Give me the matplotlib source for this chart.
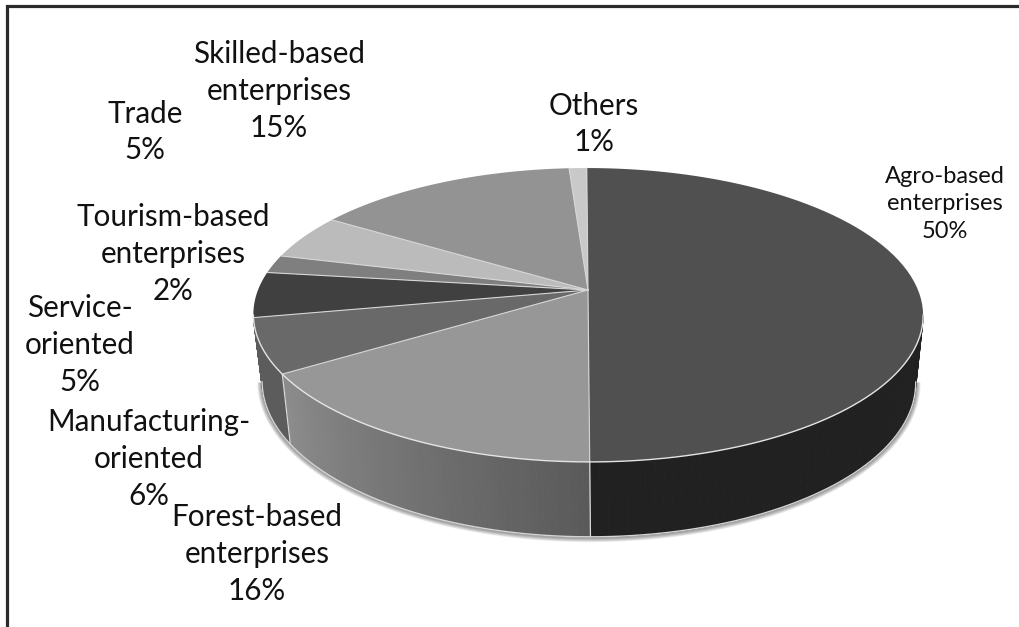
import numpy as np
import matplotlib
matplotlib.use('Agg')
import matplotlib.pyplot as plt

labels = ['Agro-based\nenterprises', 'Forest-based\nenterprises', 'Manufacturing-\noriented',
          'Service-\noriented', 'Tourism-based\nenterprises', 'Trade',
          'Skilled-based\nenterprises', 'Others']
values = [50, 16, 6, 5, 2, 5, 15, 1]

top_colors = ['#505050', '#979797', '#696969', '#404040', '#7f7f7f', '#bbbbbb', '#939393', '#c9c9c9']
# wall shade at the start and end of each slice, only the front three show
wall_colors = [('#212121', '#212121'), ('#5a5a5a', '#8c8c8c'), ('#5c5c5c', '#5c5c5c')]

label_pos = [(945, 204), (257, 554), (149, 459), (80, 345), (173, 254), (145, 132), (279, 91), (594, 124)]
label_size = [17, 21.3, 21.3, 21.3, 21.3, 21.3, 21.3, 21.3]

# pie geometry in pixels, the disc is tilted so it is drawn in perspective
cx, cy = 588, 290
rx, ry = 330, 142.7
k = 0.17
lean = 0.01
bottom_sx = 0.976
bottom_sy = 1.054
bottom_shift = 65.6
visible_from = np.degrees(np.arccos(-k))


def rim(theta, sx=1.0, sy=1.0, shift=0.0):
    t = np.radians(theta)
    w = 1 + k * np.cos(t)
    y = cy + shift - sy * ry * np.cos(t) / w
    x = cx + sx * rx * np.sin(t) / w + lean * (y - cy)
    return x, y


def bottom_rim(theta):
    return rim(theta, bottom_sx, bottom_sy, bottom_shift)


def seam(angle):
    x0, y0 = rim(np.array([angle]))
    x1, y1 = bottom_rim(np.array([angle]))
    ax.plot([x0[0], x1[0]], [y0[0], y1[0]], color='#d8d8d8', lw=0.9, zorder=3)


plt.rcParams['font.family'] = ['Lato', 'DejaVu Sans']
fig = plt.figure(figsize=(10.2, 6.27), dpi=100)
ax = fig.add_axes([0, 0, 1, 1])
ax.set_xlim(0, 1020)
ax.set_ylim(627, 0)
ax.axis('off')

# frame on the top and left only
ax.plot([7.5, 7.5, 1020], [627, 6, 6], color='#2a2a2a', lw=2.3, solid_joinstyle='miter')

edges = np.cumsum([0] + values) / sum(values) * 360

# soft shadow along the lower rim
th = np.linspace(visible_from, 360 - visible_from, 300)
bx, by = bottom_rim(th)
for i in range(6):
    ax.plot(bx, by + 0.5, color='black', alpha=0.07, lw=7 - i, solid_capstyle='butt', zorder=1)

# side wall, split into thin strips so the shading can change along it
for i in range(3):
    start = max(edges[i], visible_from)
    end = min(edges[i + 1], 360 - visible_from)
    steps = np.linspace(start, end, 60)
    c0 = np.array(matplotlib.colors.to_rgb(wall_colors[i][0]))
    c1 = np.array(matplotlib.colors.to_rgb(wall_colors[i][1]))
    for j in range(len(steps) - 1):
        t = np.linspace(steps[j], steps[j + 1], 4)
        x0, y0 = rim(t)
        x1, y1 = bottom_rim(t)
        col = c0 + (c1 - c0) * j / (len(steps) - 2)
        ax.fill(np.r_[x0, x1[::-1]], np.r_[y0, y1[::-1]], facecolor=col, edgecolor=col, lw=0.7, zorder=2)

seam(edges[1])
seam(edges[2])
ax.plot(bx, by, color='#d4d4d4', lw=1.0, zorder=3)

# top of the pie
for i in range(len(values)):
    t = np.linspace(edges[i], edges[i + 1], 80)
    x, y = rim(t)
    ax.fill(np.r_[cx, x], np.r_[cy, y], facecolor=top_colors[i], edgecolor='none', lw=0, zorder=4)
for e in edges[1:]:
    x, y = rim(np.array([e]))
    ax.plot([cx, x[0]], [cy, y[0]], color='#d6d6d6', lw=0.8, zorder=5)
x, y = rim(th)
ax.plot(x, y, color='#e4e4e4', lw=1.0, zorder=5)

for name, v, pos, size in zip(labels, values, label_pos, label_size):
    ax.text(pos[0], pos[1], f'{name}\n{v}%', ha='center', va='center', ma='center',
            fontsize=size, color='#111111', linespacing=1.37, zorder=6)

fig.savefig('out.png', dpi=100, facecolor='white')
